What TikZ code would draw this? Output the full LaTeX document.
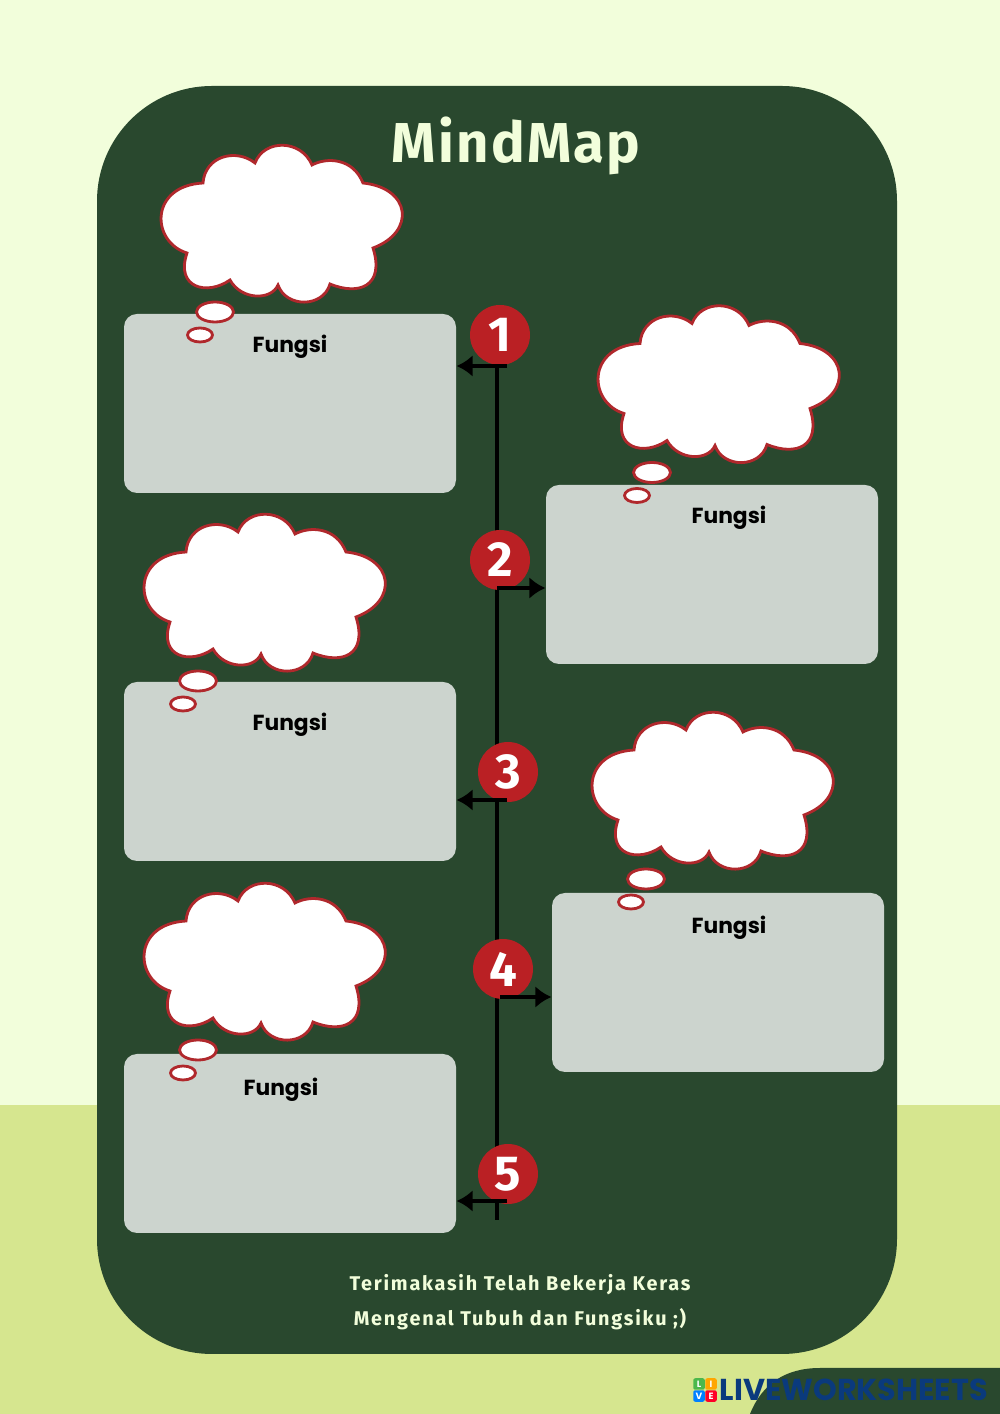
\documentclass[tikz,border=0pt]{standalone}
\usepackage{fontspec}
\usetikzlibrary{arrows.meta}
\setmainfont{Poppins}
\newfontfamily\titlefont[LetterSpace=4.0]{Fira Sans}
\newfontfamily\footfont[LetterSpace=9.0]{Fira Sans}
\newfontfamily\digitfont{Fira Sans}
\definecolor{Sky-top}{RGB}{242,254,219}
\definecolor{Grass-low}{RGB}{214,230,143}
\definecolor{Board-green}{RGB}{41,72,46}
\definecolor{Box-grey}{RGB}{204,212,206}
\definecolor{Badge-red}{RGB}{186,32,36}
\definecolor{Cloud-red}{RGB}{176,40,44}
\definecolor{Logo-blue}{RGB}{10,58,125}
\tikzset{
  board/.style={fill=Board-green, rounded corners=1.15cm, minimum width=8cm, minimum height=12.68cm, inner sep=0pt},
  fungsibox/.style={fill=Box-grey, rounded corners=0.13cm, minimum width=3.32cm, minimum height=1.79cm, inner sep=0pt},
  fungsilabel/.style={text=black, font=\fontsize{6.2}{8}\selectfont\bfseries, inner sep=0pt},
  badge/.style={circle, fill=Badge-red, minimum size=0.60cm, inner sep=0pt, text=white, font=\digitfont\fontsize{14}{16}\selectfont\bfseries},
  logotile/.style={rounded corners=0.02cm, minimum size=0.115cm, inner sep=0pt, text=white, font=\fontsize{2.6}{3}\selectfont\bfseries},
  footline/.style={text=Sky-top, font=\footfont\fontsize{5.65}{8}\selectfont\bfseries, inner sep=0pt},
  thought/.pic={
    \draw[draw=Cloud-red, fill=white, line width=0.8pt]
      (-0.94,-0.29) .. controls (-1.30,-0.18) and (-1.32,0.38) .. (-0.78,0.41)
      .. controls (-0.76,0.68) and (-0.45,0.76) .. (-0.26,0.61)
      .. controls (-0.17,0.85) and (0.20,0.85) .. (0.31,0.59)
      .. controls (0.46,0.67) and (0.72,0.66) .. (0.82,0.41)
      .. controls (1.30,0.36) and (1.35,-0.08) .. (0.92,-0.24)
      .. controls (1.04,-0.62) and (0.78,-0.72) .. (0.49,-0.60)
      .. controls (0.42,-0.84) and (0.05,-0.84) .. (-0.03,-0.61)
      .. controls (-0.10,-0.77) and (-0.40,-0.76) .. (-0.51,-0.56)
      .. controls (-0.74,-0.72) and (-1.06,-0.64) .. (-0.94,-0.29) -- cycle;
    \draw[draw=Cloud-red, fill=white, line width=0.8pt] (-0.66,-0.88) ellipse (0.185cm and 0.10cm);
    \draw[draw=Cloud-red, fill=white, line width=0.8pt] (-0.81,-1.11) ellipse (0.125cm and 0.07cm);
  }
}

\begin{document}
\begin{tikzpicture}
  \useasboundingbox (0, 0) rectangle (10, 14.14);

  \fill[Sky-top] (0, 3.09) rectangle (10, 14.14);
  \fill[Grass-low] (0, 0) rectangle (10, 3.09);
  \fill[Board-green] (7.50, 0) .. controls (7.62, 0.30) and (7.85, 0.46) .. (8.20, 0.46) -- (10, 0.46) -- (10, 0) -- cycle;

  \node[board] (board) at (4.97, 6.94) {};

  \node[text=Sky-top, font=\titlefont\fontsize{16}{20}\selectfont\bfseries, inner sep=0pt] (title) at (5.16, 12.68) {MindMap};

  \node[fungsibox] (boxA) at (2.90, 10.105) {};
  \node[fungsibox] (boxB) at (7.12, 8.395) {};
  \node[fungsibox] (boxC) at (2.90, 6.425) {};
  \node[fungsibox] (boxD) at (7.18, 4.315) {};
  \node[fungsibox] (boxE) at (2.90, 2.705) {};

  \pic at (2.81, 11.90) {thought};
  \pic at (7.18, 10.295) {thought};
  \pic at (2.64, 8.21) {thought};
  \pic at (7.12, 6.23) {thought};
  \pic at (2.64, 4.52) {thought};

  \node[fungsilabel] (fungsiA) at (2.90, 10.675) {Fungsi};
  \node[fungsilabel] (fungsiB) at (7.29, 8.965) {Fungsi};
  \node[fungsilabel] (fungsiC) at (2.90, 6.895) {Fungsi};
  \node[fungsilabel] (fungsiD) at (7.29, 4.865) {Fungsi};
  \node[fungsilabel] (fungsiE) at (2.81, 3.245) {Fungsi};

  \coordinate (spinetop) at (4.97, 10.48);
  \coordinate (spineend) at (4.97, 1.94);
  \draw[black, line width=1.4pt] (spinetop) -- (spineend);

  \node[badge] (badgeA) at (5.00, 10.79) {1};
  \node[badge] (badgeB) at (5.00, 8.54) {2};
  \node[badge] (badgeC) at (5.08, 6.42) {3};
  \node[badge] (badgeD) at (5.03, 4.45) {4};
  \node[badge] (badgeE) at (5.08, 2.40) {5};

  \coordinate (stemA) at (5.07, 10.48);
  \coordinate (stemB) at (4.97, 8.26);
  \coordinate (stemC) at (5.07, 6.14);
  \coordinate (stemD) at (5.00, 4.17);
  \coordinate (stemE) at (5.07, 2.13);

  \draw[->,>={Latex[length=1.6mm,width=2.2mm]}, black, line width=1.4pt] (stemA) -- (stemA -| boxA.east);
  \draw[->,>={Latex[length=1.6mm,width=2.2mm]}, black, line width=1.4pt] (stemB) -- (stemB -| boxB.west);
  \draw[->,>={Latex[length=1.6mm,width=2.2mm]}, black, line width=1.4pt] (stemC) -- (stemC -| boxC.east);
  \draw[->,>={Latex[length=1.6mm,width=2.2mm]}, black, line width=1.4pt] (stemD) -- (stemD -| boxD.west);
  \draw[->,>={Latex[length=1.6mm,width=2.2mm]}, black, line width=1.4pt] (stemE) -- (stemE -| boxE.east);

  \node[footline] (thanksA) at (5.20, 1.29) {Terimakasih Telah Bekerja Keras};
  \node[footline] (thanksB) at (5.20, 0.95) {Mengenal Tubuh dan Fungsiku ;)};

  \node[logotile, fill=green!60!black!70!white] (tileL) at (6.99, 0.30) {L};
  \node[logotile, fill=orange!70!yellow] (tileI) at (7.11, 0.30) {I};
  \node[logotile, fill=blue!50!cyan] (tileV) at (6.99, 0.18) {V};
  \node[logotile, fill=red!85!magenta] (tileE) at (7.11, 0.18) {E};
  \node[text=Logo-blue, font=\fontsize{8.6}{10}\selectfont\bfseries, inner sep=0pt, anchor=west] (logo) at (7.19, 0.24) {LIVEWORKSHEETS};
\end{tikzpicture}
\end{document}
